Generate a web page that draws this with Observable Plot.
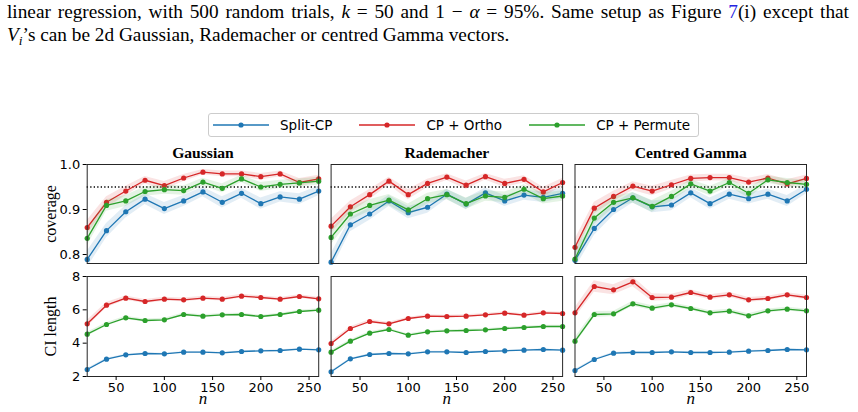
<!DOCTYPE html>
<html>
<head>
<meta charset="utf-8">
<script src="https://cdn.jsdelivr.net/npm/d3@7"></script>
<script src="https://cdn.jsdelivr.net/npm/@observablehq/plot@0.6"></script>
<style>
  body { margin: 0; background: #fff; }
  #fig { position: relative; width: 858px; height: 412px; overflow: hidden; background: #fff; }
  #caption { position: absolute; left: 7px; top: 1px; font-family: "Liberation Serif", serif; font-size: 19.3px; line-height: 22.5px; color: #000; white-space: nowrap; }
  #caption sub { font-size: 0.7em; vertical-align: -0.3em; line-height: 0; }
  #legend { position: absolute; left: 208px; top: 113px; width: 491px; height: 24px; box-sizing: border-box; border: 1px solid #ccc; border-radius: 3px; background: #fff; display: flex; align-items: center; font-family: "DejaVu Sans", sans-serif; font-size: 13.5px; color: #000; }
  .row { position: absolute; left: 0; }
</style>
</head>
<body>
<div id="fig">
  <div id="caption">
    <div id="line1">linear regression, with 500 random trials, <i>k</i> = 50 and 1 − <i>α</i> = 95%. Same setup as Figure <span style="color:#2424e0">7</span>(i) except that</div>
    <div><i>V<sub>i</sub></i>’s can be 2d Gaussian, Rademacher or centred Gamma vectors.</div>
  </div>
  <div id="legend"></div>
  <div id="row1" class="row" style="top:140px"></div>
  <div id="row2" class="row" style="top:270px"></div>
</div>
<script>
// Sample sizes n and the three vector distributions / three methods compared
const nValues = [20, 40, 60, 80, 100, 120, 140, 160, 180, 200, 220, 240, 260];
const distributions = ["Gaussian", "Rademacher", "Centred Gamma"];
const methods = ["Split-CP", "CP + Ortho", "CP + Permute"];
const colors = ["#1f77b4", "#d62728", "#2ca02c"];
const trials = 500;
const targetCoverage = 0.95;

// Empirical coverage
const covGaussSplit   = [0.789, 0.853, 0.895, 0.923, 0.902, 0.919, 0.939, 0.916, 0.936, 0.913, 0.928, 0.923, 0.941];
const covGaussOrtho   = [0.860, 0.916, 0.941, 0.965, 0.953, 0.970, 0.983, 0.979, 0.979, 0.973, 0.979, 0.960, 0.968];
const covGaussPermute = [0.836, 0.909, 0.919, 0.940, 0.944, 0.942, 0.961, 0.947, 0.968, 0.950, 0.956, 0.959, 0.963];
const covRadeSplit    = [0.783, 0.866, 0.890, 0.919, 0.893, 0.905, 0.934, 0.912, 0.937, 0.919, 0.932, 0.927, 0.936];
const covRadeOrtho    = [0.863, 0.906, 0.933, 0.963, 0.933, 0.958, 0.972, 0.954, 0.973, 0.958, 0.967, 0.939, 0.960];
const covRadePermute  = [0.838, 0.890, 0.909, 0.921, 0.899, 0.924, 0.933, 0.913, 0.930, 0.927, 0.945, 0.924, 0.930];
const covGammaSplit   = [0.787, 0.858, 0.900, 0.926, 0.906, 0.910, 0.937, 0.913, 0.934, 0.924, 0.934, 0.919, 0.945];
const covGammaOrtho   = [0.816, 0.903, 0.929, 0.952, 0.941, 0.955, 0.969, 0.971, 0.971, 0.961, 0.970, 0.957, 0.969];
const covGammaPermute = [0.790, 0.881, 0.916, 0.926, 0.907, 0.929, 0.957, 0.941, 0.960, 0.936, 0.966, 0.960, 0.956];

// Mean confidence-interval length
const lenGaussSplit   = [2.42, 3.04, 3.30, 3.38, 3.36, 3.46, 3.46, 3.42, 3.50, 3.54, 3.56, 3.64, 3.60];
const lenGaussOrtho   = [5.16, 6.28, 6.70, 6.50, 6.64, 6.60, 6.70, 6.64, 6.82, 6.74, 6.64, 6.80, 6.66];
const lenGaussPermute = [4.54, 5.12, 5.52, 5.36, 5.40, 5.72, 5.62, 5.70, 5.72, 5.60, 5.72, 5.90, 5.98];
const lenRadeSplit    = [2.28, 3.06, 3.32, 3.38, 3.36, 3.48, 3.48, 3.44, 3.50, 3.54, 3.58, 3.62, 3.58];
const lenRadeOrtho    = [3.98, 4.88, 5.30, 5.16, 5.48, 5.62, 5.60, 5.62, 5.70, 5.80, 5.68, 5.82, 5.78];
const lenRadePermute  = [3.46, 4.12, 4.60, 4.82, 4.48, 4.68, 4.74, 4.76, 4.80, 4.88, 4.94, 5.00, 5.00];
const lenGammaSplit   = [2.36, 3.02, 3.40, 3.44, 3.44, 3.48, 3.44, 3.44, 3.46, 3.52, 3.56, 3.62, 3.60];
const lenGammaOrtho   = [5.82, 7.40, 7.20, 7.68, 6.74, 6.76, 7.04, 6.76, 6.90, 6.60, 6.68, 6.90, 6.74];
const lenGammaPermute = [4.12, 5.72, 5.76, 6.36, 6.10, 6.30, 6.08, 5.82, 5.92, 5.64, 5.94, 6.04, 5.94];

// Half-widths of the shaded bands around the CI lengths
const lenGaussSplitErr   = [0.06, 0.05, 0.04, 0.04, 0.04, 0.04, 0.04, 0.04, 0.04, 0.04, 0.04, 0.04, 0.04];
const lenGaussOrthoErr   = [0.20, 0.16, 0.13, 0.12, 0.12, 0.11, 0.11, 0.11, 0.11, 0.10, 0.10, 0.10, 0.10];
const lenGaussPermuteErr = [0.12, 0.10, 0.10, 0.09, 0.09, 0.09, 0.08, 0.08, 0.08, 0.08, 0.08, 0.08, 0.08];
const lenRadeSplitErr    = [0.05, 0.04, 0.04, 0.04, 0.03, 0.03, 0.03, 0.03, 0.03, 0.03, 0.03, 0.03, 0.03];
const lenRadeOrthoErr    = [0.12, 0.10, 0.10, 0.09, 0.08, 0.08, 0.08, 0.08, 0.08, 0.08, 0.08, 0.08, 0.08];
const lenRadePermuteErr  = [0.10, 0.09, 0.08, 0.08, 0.07, 0.07, 0.07, 0.07, 0.07, 0.07, 0.07, 0.07, 0.07];
const lenGammaSplitErr   = [0.06, 0.05, 0.05, 0.04, 0.04, 0.04, 0.04, 0.04, 0.04, 0.04, 0.04, 0.04, 0.04];
const lenGammaOrthoErr   = [0.30, 0.35, 0.30, 0.30, 0.22, 0.18, 0.16, 0.15, 0.15, 0.14, 0.13, 0.13, 0.13];
const lenGammaPermuteErr = [0.20, 0.18, 0.16, 0.15, 0.14, 0.13, 0.12, 0.12, 0.12, 0.12, 0.11, 0.11, 0.11];

// Long-format tables: one row per (distribution, method, n)
const coverageTable = [
  [covGaussSplit, covGaussOrtho, covGaussPermute],
  [covRadeSplit, covRadeOrtho, covRadePermute],
  [covGammaSplit, covGammaOrtho, covGammaPermute]
];
const lengthTable = [
  [lenGaussSplit, lenGaussOrtho, lenGaussPermute],
  [lenRadeSplit, lenRadeOrtho, lenRadePermute],
  [lenGammaSplit, lenGammaOrtho, lenGammaPermute]
];
const lengthErrTable = [
  [lenGaussSplitErr, lenGaussOrthoErr, lenGaussPermuteErr],
  [lenRadeSplitErr, lenRadeOrthoErr, lenRadePermuteErr],
  [lenGammaSplitErr, lenGammaOrthoErr, lenGammaPermuteErr]
];

const covRows = [];
const lenRows = [];
distributions.forEach((dist, i) => {
  methods.forEach((method, j) => {
    nValues.forEach((n, k) => {
      const p = coverageTable[i][j][k];
      const se = Math.sqrt(p * (1 - p) / trials); // binomial standard error
      covRows.push({dist, method, n, value: p, lo: p - se, hi: p + se});
      const L = lengthTable[i][j][k];
      const e = lengthErrTable[i][j][k];
      lenRows.push({dist, method, n, value: L, lo: L - e, hi: L + e});
    });
  });
});

// Legend
const legend = d3.select("#legend");
methods.forEach((m, i) => {
  const item = legend.append("div")
    .style("display", "flex").style("align-items", "center")
    .style("margin-left", i === 0 ? "4px" : "27px");
  const sw = item.append("svg").attr("width", 56).attr("height", 10);
  sw.append("line").attr("x1", 0).attr("x2", 56).attr("y1", 5).attr("y2", 5)
    .attr("stroke", colors[i]).attr("stroke-width", 1.3);
  sw.append("circle").attr("cx", 28).attr("cy", 5).attr("r", 2.6).attr("fill", colors[i]);
  item.append("span").style("margin-left", "11px").text(m);
});

// Stretch (or tighten) the first caption line to the full text width
const line1 = document.getElementById("line1");
line1.style.display = "inline-block";
const natural = line1.getBoundingClientRect().width;
const spaces = (line1.textContent.match(/ /g) || []).length;
line1.style.wordSpacing = ((842 - natural) / spaces) + "px";
line1.style.display = "block";

// Band, line and dots for each method, layered in legend order
function seriesMarks(rows) {
  return methods.flatMap(m => {
    const d = rows.filter(r => r.method === m);
    return [
      Plot.areaY(d, {x: "n", y1: "lo", y2: "hi", fx: "dist", fill: "method", fillOpacity: 0.13, clip: true}),
      Plot.line(d, {x: "n", y: "value", fx: "dist", stroke: "method", strokeWidth: 1.3}),
      Plot.dot(d, {x: "n", y: "value", fx: "dist", fill: "method", r: 2.6})
    ];
  });
}

const common = {
  width: 858,
  marginLeft: 86.7,
  marginRight: 52,
  fx: {domain: distributions, paddingInner: 0.0508, paddingOuter: 0, round: false, axis: null},
  color: {domain: methods, range: colors},
  style: {fontFamily: "DejaVu Sans", fontSize: "13px", color: "#000", background: "transparent", overflow: "visible"}
};

const serif = "Liberation Serif";

const coveragePlot = Plot.plot({
  ...common,
  height: 124,
  marginTop: 24,
  marginBottom: 1,
  x: {domain: [20, 260], axis: null},
  y: {domain: [0.78, 1.0]},
  marks: [
    Plot.ruleY([targetCoverage], {stroke: "#000", strokeWidth: 1.3, strokeDasharray: "1.3,2.2"}),
    ...seriesMarks(covRows),
    Plot.frame({stroke: "#262626", strokeWidth: 1}),
    Plot.axisY({ticks: [0.8, 0.9, 1.0], tickFormat: d => d.toFixed(1), tickSize: 4, tickPadding: 3, label: null}),
    Plot.text(distributions, {fx: d => d, text: d => d, frameAnchor: "top", lineAnchor: "middle", dy: -12,
      fontFamily: serif, fontWeight: "bold", fontSize: 15.6}),
    Plot.text([distributions[0]], {fx: d => d, text: () => "coverage", frameAnchor: "left",
      textAnchor: "middle", lineAnchor: "middle", rotate: -90, dx: -36.7, fontFamily: serif, fontSize: 16})
  ]
});
document.getElementById("row1").append(coveragePlot);

const lengthPlot = Plot.plot({
  ...common,
  height: 142,
  marginTop: 6,
  marginBottom: 36,
  x: {domain: [20, 260]},
  y: {domain: [2, 8]},
  marks: [
    ...seriesMarks(lenRows),
    Plot.frame({stroke: "#262626", strokeWidth: 1}),
    Plot.axisY({ticks: [2, 4, 6, 8], tickFormat: d => String(d), tickSize: 4, tickPadding: 3, label: null}),
    Plot.axisX({ticks: [50, 100, 150, 200, 250], tickSize: 4, tickPadding: 2, label: null}),
    Plot.text(distributions, {fx: d => d, text: () => "n", frameAnchor: "bottom", lineAnchor: "middle", dy: 22,
      fontFamily: serif, fontStyle: "italic", fontSize: 17}),
    Plot.text([distributions[0]], {fx: d => d, text: () => "CI length", frameAnchor: "left",
      textAnchor: "middle", lineAnchor: "middle", rotate: -90, dx: -36.7, fontFamily: serif, fontSize: 16})
  ]
});
document.getElementById("row2").append(lengthPlot);
</script>
</body>
</html>
